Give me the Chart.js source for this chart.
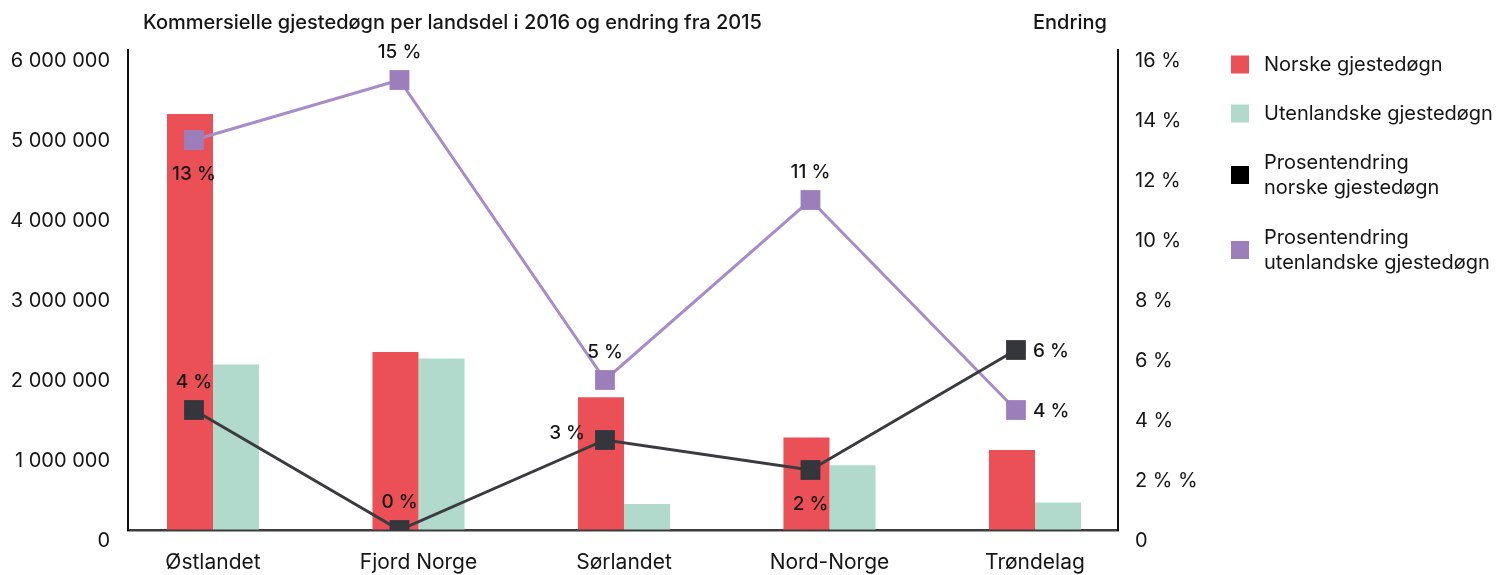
<!DOCTYPE html>
<html><head><meta charset="utf-8">
<script src="https://cdn.jsdelivr.net/npm/chart.js@4"></script>
<style>
html,body{margin:0;padding:0;background:#fff;}
#wrap{position:relative;width:1500px;height:575px;font-family:Inter,'Noto Sans',sans-serif;color:#161616;overflow:hidden;}
canvas{position:absolute;left:0;top:0;}
.t{position:absolute;font-size:20px;white-space:nowrap;line-height:20px;font-weight:500;}
.li{position:absolute;left:1231px;display:flex;align-items:center;transform:translateY(-50%);}
.sw{width:18px;height:18px;flex:none;}
.lt{margin-left:15px;font-size:20px;line-height:25px;white-space:nowrap;}
</style></head>
<body>
<div id="wrap">
<canvas id="c" width="1500" height="575"></canvas>
<div class="t" style="left:143px;top:12px;">Kommersielle gjestedøgn per landsdel i 2016 og endring fra 2015</div>
<div class="t" style="left:1033px;top:12px;">Endring</div>
</div>
<script>
const categories = ['Østlandet', 'Fjord Norge', 'Sørlandet', 'Nord-Norge', 'Trøndelag'];
const norskeGjestedogn = [5200000, 2225000, 1660000, 1155000, 1000000];
const utenlandskeGjestedogn = [2070000, 2145000, 325000, 810000, 345000];
const endringNorske = [4, 0, 3, 2, 6];
const endringUtenlandske = [13, 15, 5, 11, 4];
const leftTickLabels = ['0', '1 000 000', '2 000 000', '3 000 000', '4 000 000', '5 000 000', '6 000 000'];
const rightTickLabels = ['0', '2 % %', '4 %', '6 %', '8 %', '10 %', '12 %', '14 %', '16 %'];
const seriesNames = ['Norske gjestedøgn', 'Utenlandske gjestedøgn', 'Prosentendring\nnorske gjestedøgn', 'Prosentendring\nutenlandske gjestedøgn'];

// styling (not data)
const colors = ['#EA5056', '#B1D9CC', '#34363C', '#9C7EBA'];
const lineColors = [null, null, '#3A3B3F', '#A68CC8'];
const labelPosNorske = ['top', 'top', 'left', 'bottom', 'right'];
const labelPosUtenlandske = ['bottom', 'top', 'top', 'top', 'right'];
const legendCenters = [64, 113, 175, 250];

// legend
const wrap = document.getElementById('wrap');
seriesNames.forEach((name, i) => {
  const li = document.createElement('div');
  li.className = 'li';
  li.style.top = legendCenters[i] + 'px';
  const sw = document.createElement('div');
  sw.className = 'sw';
  sw.style.background = i === 2 ? '#000' : colors[i];
  const lt = document.createElement('div');
  lt.className = 'lt';
  lt.innerHTML = name.split('\n').join('<br>');
  li.appendChild(sw); li.appendChild(lt);
  wrap.appendChild(li);
});

// axis ranges (index units) and per-series shifts of the hidden axes
const X_MIN = -0.4136, X_MAX = 4.404;
const LINE_SHIFT = 0.0925, BAR_SHIFT = 0.112, BAR_RATIO = 0.224;
const FONT = "Inter, 'Noto Sans', sans-serif";
const indexTicks = s => { s.ticks = categories.map((c, i) => ({ value: i })); };
const hiddenAxis = shift => ({ type: 'linear', display: false, offset: false, min: X_MIN + shift, max: X_MAX + shift, afterBuildTicks: indexTicks });

const pointLabels = {
  id: 'pointLabels',
  afterDatasetsDraw(chart) {
    const ctx = chart.ctx;
    ctx.save();
    ctx.font = '500 19px ' + FONT;
    ctx.fillStyle = '#161616';
    ctx.textBaseline = 'middle';
    chart.data.datasets.forEach((ds, di) => {
      if (!ds.labelPos) return;
      const meta = chart.getDatasetMeta(di);
      meta.data.forEach((pt, i) => {
        const txt = Math.round(ds.data[i].y) + ' %';
        let x = pt.x, y = pt.y, align = 'center';
        switch (ds.labelPos[i]) {
          case 'top': y -= 28; break;
          case 'bottom': y += 34; break;
          case 'left': x -= 20; y -= 7; align = 'right'; break;
          case 'right': x += 17; y += 1; align = 'left'; break;
        }
        ctx.textAlign = align;
        ctx.fillText(txt, x, y);
      });
    });
    ctx.restore();
  }
};

new Chart(document.getElementById('c'), {
  type: 'bar',
  data: {
    datasets: [
      { type: 'bar', label: seriesNames[0], data: categories.map((c, i) => ({ x: i, y: norskeGjestedogn[i] })),
        backgroundColor: colors[0], xAxisID: 'xRed', yAxisID: 'y', order: 3, grouped: false,
        categoryPercentage: BAR_RATIO, barPercentage: 1, borderWidth: 0 },
      { type: 'bar', label: seriesNames[1], data: categories.map((c, i) => ({ x: i, y: utenlandskeGjestedogn[i] })),
        backgroundColor: colors[1], xAxisID: 'xGreen', yAxisID: 'y', order: 4, grouped: false,
        categoryPercentage: BAR_RATIO, barPercentage: 1, borderWidth: 0 },
      { type: 'line', label: seriesNames[2], data: categories.map((c, i) => ({ x: i, y: endringNorske[i] })),
        borderColor: lineColors[2], borderWidth: 3, pointStyle: 'rect', pointRadius: 14, pointBackgroundColor: colors[2],
        pointBorderWidth: 0, xAxisID: 'xLine', yAxisID: 'y1', order: 1, labelPos: labelPosNorske, tension: 0 },
      { type: 'line', label: seriesNames[3], data: categories.map((c, i) => ({ x: i, y: endringUtenlandske[i] })),
        borderColor: lineColors[3], borderWidth: 3, pointStyle: 'rect', pointRadius: 14, pointBackgroundColor: colors[3],
        pointBorderWidth: 0, xAxisID: 'xLine', yAxisID: 'y1', order: 2, labelPos: labelPosUtenlandske, tension: 0 }
    ]
  },
  options: {
    responsive: false,
    animation: false,
    events: [],
    layout: { padding: { left: 0, right: 302, top: 50, bottom: 0 } },
    plugins: { legend: { display: false }, tooltip: { enabled: false }, title: { display: false } },
    scales: {
      x: {
        type: 'linear', position: 'bottom', min: X_MIN, max: X_MAX, offset: false,
        afterBuildTicks: indexTicks,
        afterFit: s => { s.height = 45; },
        ticks: { callback: v => categories[v], font: { family: FONT, size: 21 }, color: '#161616', padding: 20, maxRotation: 0, autoSkip: false },
        grid: { display: true, offset: false, drawOnChartArea: false, drawTicks: false },
        border: { display: true, color: '#3c3c3c', width: 2.5 }
      },
      xRed: hiddenAxis(BAR_SHIFT),
      xGreen: hiddenAxis(-BAR_SHIFT),
      xLine: hiddenAxis(LINE_SHIFT),
      y: {
        type: 'linear', position: 'left', min: 0, max: 6000000,
        afterFit: s => { s.width = 128; },
        ticks: { stepSize: 1000000, callback: v => leftTickLabels[Math.round(v / 1000000)], font: { family: FONT, size: 20 }, color: '#161616', padding: 18, labelOffset: 11 },
        grid: { display: true, drawOnChartArea: false, drawTicks: false },
        border: { display: true, color: '#111', width: 2 }
      },
      y1: {
        type: 'linear', position: 'right', min: 0, max: 16,
        afterFit: s => { s.width = 80; },
        ticks: { stepSize: 2, callback: v => rightTickLabels[Math.round(v / 2)], font: { family: FONT, size: 20 }, color: '#161616', padding: 17, labelOffset: 11 },
        grid: { display: true, drawOnChartArea: false, drawTicks: false },
        border: { display: true, color: '#111', width: 2 }
      }
    }
  },
  plugins: [pointLabels]
});
</script>
</body></html>
